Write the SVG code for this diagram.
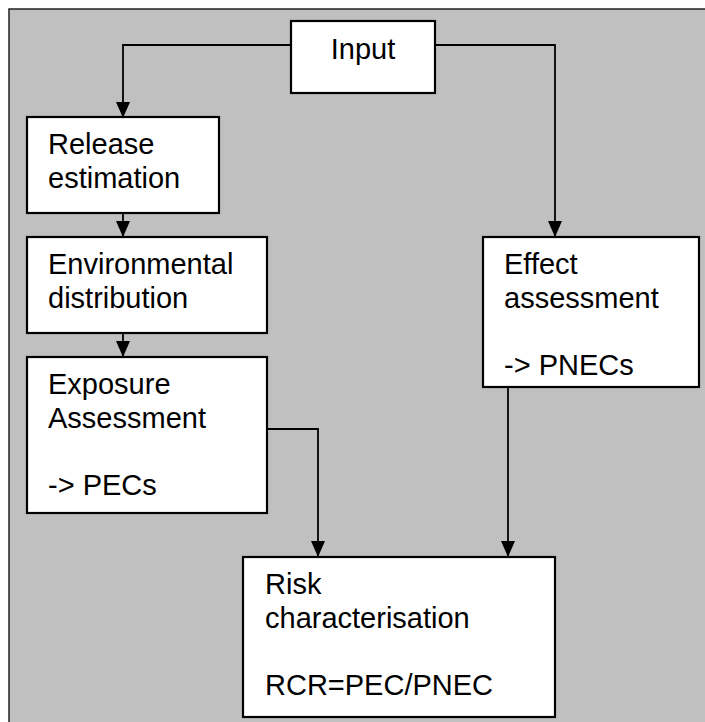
<svg xmlns="http://www.w3.org/2000/svg" width="705" height="722" viewBox="0 0 705 722">
<style>
.box{fill:#fff;stroke:#000;stroke-width:2.2}
.t{font-family:"Liberation Sans",Arial,sans-serif;font-size:29px;fill:#000}
.c{fill:none;stroke:#000;stroke-width:1.8}
</style>
<defs>
<marker id="ah" markerUnits="userSpaceOnUse" markerWidth="16" markerHeight="16" refX="15" refY="7" orient="auto">
<path d="M0,0 L16,7 L0,14 Z" fill="#000"/>
</marker>
</defs>
<rect x="9" y="9" width="720" height="730" fill="#c0c0c0" stroke="#222" stroke-width="1.5"/>
<g id="connectors">
<path class="c" d="M291,45 H123 V117" marker-end="url(#ah)"/>
<path class="c" d="M435,45 H555 V236" marker-end="url(#ah)"/>
<path class="c" d="M123,213 V236" marker-end="url(#ah)"/>
<path class="c" d="M123,333 V356" marker-end="url(#ah)"/>
<path class="c" d="M267,429 H318 V556" marker-end="url(#ah)"/>
<path class="c" d="M508,387 V556" marker-end="url(#ah)"/>
</g>
<g id="input">
<rect class="box" x="291" y="21" width="144" height="72"/>
<text class="t" x="363" y="59" text-anchor="middle">Input</text>
</g>
<g id="release">
<rect class="box" x="27" y="117" width="192" height="96"/>
<text class="t" x="48" y="154">Release</text>
<text class="t" x="48" y="188">estimation</text>
</g>
<g id="environmental">
<rect class="box" x="27" y="237" width="240" height="96"/>
<text class="t" x="48" y="274">Environmental</text>
<text class="t" x="48" y="308">distribution</text>
</g>
<g id="exposure">
<rect class="box" x="27" y="357" width="240" height="156"/>
<text class="t" x="48" y="394">Exposure</text>
<text class="t" x="48" y="428">Assessment</text>
<text class="t" x="48" y="495">-&gt; PECs</text>
</g>
<g id="effect">
<rect class="box" x="483" y="237" width="216" height="150"/>
<text class="t" x="504" y="274">Effect</text>
<text class="t" x="504" y="308">assessment</text>
<text class="t" x="504" y="375">-&gt; PNECs</text>
</g>
<g id="risk">
<rect class="box" x="243" y="557" width="312" height="160"/>
<text class="t" x="265" y="594">Risk</text>
<text class="t" x="265" y="628">characterisation</text>
<text class="t" x="265" y="695">RCR=PEC/PNEC</text>
</g>
</svg>
